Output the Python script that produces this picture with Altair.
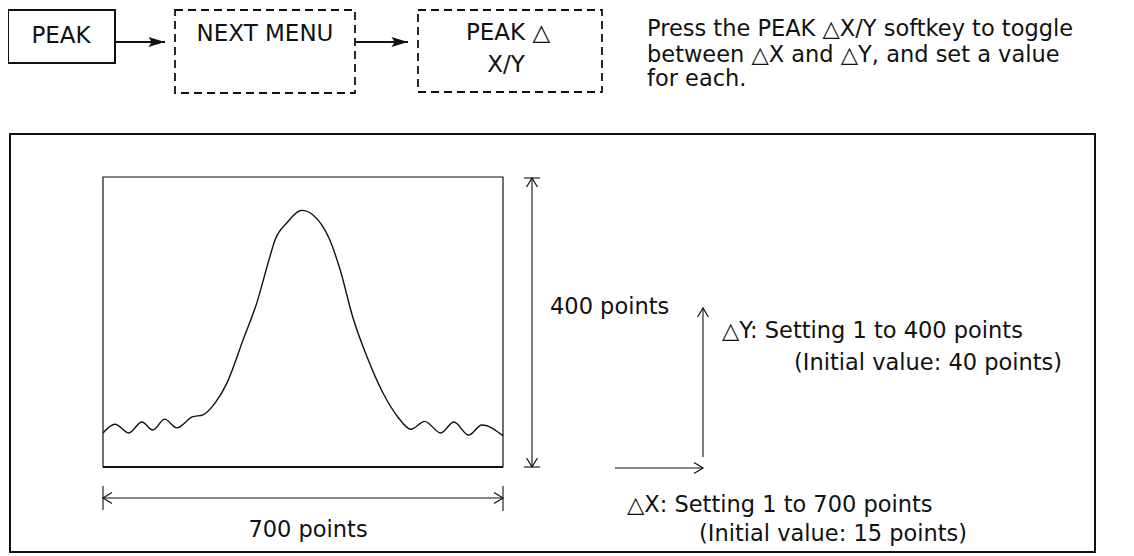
import altair as alt
import pandas as pd

# ---------------- data (page-pixel layout of the diagram) ----------------
# flow-chart boxes
box_left = [8, 175, 418]
box_right = [115, 355, 602]
box_top = [10, 10, 10]
box_bottom = [63, 93, 92]
box_dashed = [False, True, True]

box_labels = ["PEAK", "NEXT MENU", "PEAK △", "X/Y"]
box_label_x = [61, 265, 508, 506]
box_label_y = [43, 41, 40, 72]

# flow arrows
flow_x1 = [115, 355]
flow_tip = [165, 408]
flow_y = [42, 42]

# outer frame and plot window
frame = [10, 134, 1095, 552]
PLOT_L, PLOT_T, PLOT_R, PLOT_B = 103, 177, 503, 467

# trace in screen points (x: 0..700, y: 0..400)
trace_x = [0, 21, 45, 68, 87, 108, 129, 156, 175, 196, 217, 245, 269, 292, 301,
           322, 348, 367, 397, 415, 437, 462, 490, 516, 539, 563, 591, 614, 640, 663, 700]
trace_y = [47, 59, 47, 62, 51, 66, 54, 69, 72, 88, 116, 175, 226, 290, 313,
           337, 354, 348, 313, 272, 207, 152, 102, 69, 52, 63, 47, 62, 44, 58, 43]

# dimension / indicator line segments
seg_x1 = [532, 524, 524, 103, 103, 503, 703, 615]
seg_y1 = [178, 178, 467, 498, 486, 486, 457, 468]
seg_x2 = [532, 540, 540, 503, 103, 503, 703, 702]
seg_y2 = [467, 178, 467, 498, 510, 511, 309, 468]

# open arrow heads: tip position and direction
head_x = [532, 532, 103, 503, 703, 703]
head_y = [178, 467, 498, 498, 308, 468]
head_dir = ["up", "down", "left", "right", "up", "right"]

# texts
left_texts = [
    "Press the PEAK △X/Y softkey to toggle",
    "between △X and △Y, and set a value",
    "for each.",
    "400 points",
    "△Y: Setting 1 to 400 points",
    "(Initial value: 40 points)",
    "△X: Setting 1 to 700 points",
    "(Initial value: 15 points)",
]
left_text_x = [647, 647, 647, 550, 722, 794, 627, 699]
left_text_y = [36, 62, 86, 314, 338, 370, 512, 541]

center_texts = ["700 points"]
center_text_x = [308]
center_text_y = [537]

# ---------------- chart ----------------
W, H = 1118, 546
XS = alt.Scale(domain=[8, 8 + W], nice=False, zero=False)
YS = alt.Scale(domain=[8, 8 + H], nice=False, zero=False, reverse=True)
FONT = "DejaVu Sans"
INK = "#111111"


def X(f):
    return alt.X(f, type="quantitative", scale=XS, axis=None)


def Y(f):
    return alt.Y(f, type="quantitative", scale=YS, axis=None)


boxes = pd.DataFrame({"x": box_left, "x2": box_right, "y": box_top,
                      "y2": box_bottom, "dashed": box_dashed})

solid_boxes = alt.Chart(boxes[~boxes.dashed]).mark_rect(
    fillOpacity=0, stroke=INK, strokeWidth=2
).encode(x=X("x"), x2="x2", y=Y("y"), y2="y2")

dashed_boxes = alt.Chart(boxes[boxes.dashed]).mark_rect(
    fillOpacity=0, stroke=INK, strokeWidth=1.8, strokeDash=[8, 5]
).encode(x=X("x"), x2="x2", y=Y("y"), y2="y2")

frame_df = pd.DataFrame({"x": [frame[0]], "y": [frame[1]], "x2": [frame[2]], "y2": [frame[3]]})
frame_rect = alt.Chart(frame_df).mark_rect(
    fillOpacity=0, stroke=INK, strokeWidth=2
).encode(x=X("x"), x2="x2", y=Y("y"), y2="y2")

plot_df = pd.DataFrame({"x": [PLOT_L], "y": [PLOT_T], "x2": [PLOT_R], "y2": [PLOT_B]})
plot_rect = alt.Chart(plot_df).mark_rect(
    fillOpacity=0, stroke=INK, strokeWidth=1.2
).encode(x=X("x"), x2="x2", y=Y("y"), y2="y2")

plot_floor = alt.Chart(pd.DataFrame({"x": [PLOT_L], "x2": [PLOT_R], "y": [PLOT_B]})).mark_rule(
    stroke=INK, strokeWidth=2.2
).encode(x=X("x"), x2="x2", y=Y("y"))

flow_df = pd.DataFrame({"x": flow_x1, "x2": flow_tip, "y": flow_y})
flow_lines = alt.Chart(flow_df).mark_rule(stroke=INK, strokeWidth=1.8).encode(
    x=X("x"), x2="x2", y=Y("y"))

flow_head_df = pd.DataFrame({"x": flow_tip, "y": flow_y})
flow_heads = alt.Chart(flow_head_df).mark_point(
    shape="M -1 -0.3 L 0 0 L -1 0.3 L -0.8 0 Z", filled=True, size=1100,
    color=INK, opacity=1, strokeWidth=0.5
).encode(x=X("x"), y=Y("y"))

seg_df = pd.DataFrame({"x": seg_x1, "y": seg_y1, "x2": seg_x2, "y2": seg_y2})
segments = alt.Chart(seg_df).mark_rule(stroke=INK, strokeWidth=1.1).encode(
    x=X("x"), y=Y("y"), x2="x2", y2="y2")

HEAD_PATHS = {
    "up": "M -0.6 1 L 0 0 L 0.6 1",
    "down": "M -0.6 -1 L 0 0 L 0.6 -1",
    "left": "M 1 -0.6 L 0 0 L 1 0.6",
    "right": "M -1 -0.6 L 0 0 L -1 0.6",
}
head_df = pd.DataFrame({"x": head_x, "y": head_y,
                        "shape": [HEAD_PATHS[d] for d in head_dir]})
heads = alt.Chart(head_df).mark_point(
    filled=False, size=324, color=INK, opacity=1, strokeWidth=1.2
).encode(x=X("x"), y=Y("y"), shape=alt.Shape("shape:N", scale=None))

trace_df = pd.DataFrame({"xu": trace_x, "yu": trace_y, "i": range(len(trace_x))})
trace = alt.Chart(trace_df).transform_calculate(
    x=f"{PLOT_L} + datum.xu * {PLOT_R - PLOT_L} / 700",
    y=f"{PLOT_B} - datum.yu * {PLOT_B - PLOT_T} / 400",
).mark_line(interpolate="monotone", color=INK, strokeWidth=1.4).encode(
    x=X("x"), y=Y("y"), order="i:Q")

lt_df = pd.DataFrame({"t": left_texts, "x": left_text_x, "y": left_text_y})
left_text_layer = alt.Chart(lt_df).mark_text(
    align="left", baseline="alphabetic", font=FONT, fontSize=22.5, color=INK
).encode(x=X("x"), y=Y("y"), text="t:N")

ct_df = pd.DataFrame({"t": center_texts, "x": center_text_x, "y": center_text_y})
center_text_layer = alt.Chart(ct_df).mark_text(
    align="center", baseline="alphabetic", font=FONT, fontSize=22.5, color=INK
).encode(x=X("x"), y=Y("y"), text="t:N")

bl_df = pd.DataFrame({"t": box_labels, "x": box_label_x, "y": box_label_y})
box_text_layer = alt.Chart(bl_df).mark_text(
    align="center", baseline="alphabetic", font=FONT, fontSize=23, color=INK
).encode(x=X("x"), y=Y("y"), text="t:N")

chart = alt.layer(
    frame_rect, plot_rect, plot_floor, trace, segments, heads,
    solid_boxes, dashed_boxes, flow_lines, flow_heads,
    box_text_layer, left_text_layer, center_text_layer,
).properties(
    width=W, height=H, padding=0,
    autosize=alt.AutoSizeParams(type="none"),
    background="white",
).configure_view(strokeWidth=0)

chart.save("out.html", embed_options={"renderer": "svg", "actions": False})
